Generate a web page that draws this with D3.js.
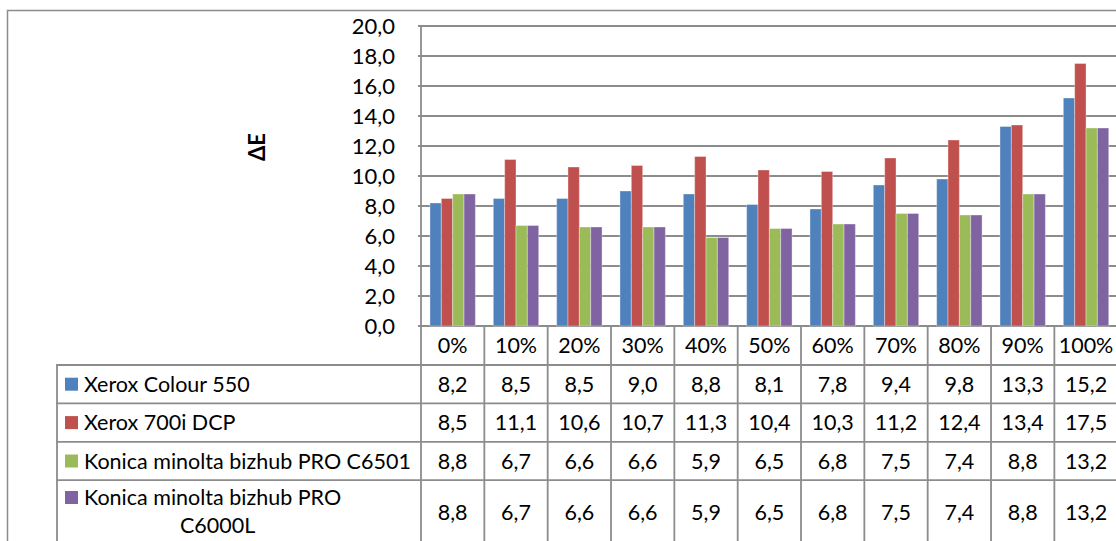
<!DOCTYPE html>
<html>
<head>
<meta charset="utf-8">
<script src="https://cdn.jsdelivr.net/npm/d3@7"></script>
<style>
  html, body { margin: 0; padding: 0; background: #fff; }
  svg { display: block; font-family: Lato, "Open Sans", sans-serif; }
</style>
</head>
<body>
<svg id="chart" width="1116" height="541"></svg>
<script>
// Tone levels along the x axis
const categories = ["0%", "10%", "20%", "30%", "40%", "50%", "60%", "70%", "80%", "90%", "100%"];

// ΔE per printer
const xeroxColour550 = [8.2, 8.5, 8.5, 9.0, 8.8, 8.1, 7.8, 9.4, 9.8, 13.3, 15.2];
const xerox700iDCP   = [8.5, 11.1, 10.6, 10.7, 11.3, 10.4, 10.3, 11.2, 12.4, 13.4, 17.5];
const konicaC6501    = [8.8, 6.7, 6.6, 6.6, 5.9, 6.5, 6.8, 7.5, 7.4, 8.8, 13.2];
const konicaC6000L   = [8.8, 6.7, 6.6, 6.6, 5.9, 6.5, 6.8, 7.5, 7.4, 8.8, 13.2];

const seriesNames = [
  "Xerox Colour 550",
  "Xerox 700i DCP",
  "Konica minolta bizhub PRO C6501",
  "Konica minolta bizhub PRO C6000L"
];
const seriesColors = ["#4F81BD", "#C0504D", "#9BBB59", "#8064A2"];
const yTicks = [0, 2, 4, 6, 8, 10, 12, 14, 16, 18, 20];

const series = [xeroxColour550, xerox700iDCP, konicaC6501, konicaC6000L].map((values, i) => ({
  name: seriesNames[i], color: seriesColors[i], values
}));

const svg = d3.select("#chart");
const gridColor = "#8c8c8c";
const fmt = d3.formatLocale({ decimal: ",", thousands: " ", grouping: [3], currency: ["", ""] }).format(".1f");

// Layout
const plotLeft = 421, plotRight = 1117.7, plotTop = 26, plotBottom = 326;
const tableLeft = 57;
const headerBottom = 365, rowH = 38.4;
const rowTops = [headerBottom, headerBottom + rowH, headerBottom + 2 * rowH, headerBottom + 3 * rowH];
const bottomEdge = 541;

const x = d3.scaleBand().domain(categories).range([plotLeft, plotRight]).paddingInner(0).paddingOuter(0);
const xs = d3.scaleBand().domain(d3.range(series.length)).range([0, x.bandwidth()]).paddingInner(0).paddingOuter(0.79);
const y = d3.scaleLinear().domain([0, 20]).range([plotBottom, plotTop]);

// Outer chart frame
svg.append("rect")
  .attr("x", 7.5).attr("y", 10.5).attr("width", 1200).attr("height", 600)
  .attr("fill", "none").attr("stroke", gridColor).attr("stroke-width", 1.5);

// Horizontal gridlines
svg.append("g").selectAll("line").data(yTicks).join("line")
  .attr("x1", plotLeft - 3).attr("x2", plotRight)
  .attr("y1", d => y(d)).attr("y2", d => y(d))
  .attr("stroke", gridColor).attr("stroke-width", 1.8);

// Y tick labels
svg.append("g").selectAll("text").data(yTicks).join("text")
  .attr("x", 395).attr("y", d => y(d)).attr("dy", "0.36em")
  .attr("text-anchor", "end").attr("font-size", 22).attr("fill", "#000")
  .text(d => fmt(d));

// Y axis title
svg.append("text")
  .attr("transform", "translate(265,147) rotate(-90)")
  .attr("text-anchor", "middle").attr("font-size", 22).attr("font-weight", "bold")
  .text("ΔE");

// Bars
const groups = svg.append("g").selectAll("g").data(series).join("g")
  .attr("fill", d => d.color);
groups.each(function (s, si) {
  d3.select(this).selectAll("rect").data(s.values).join("rect")
    .attr("x", (v, i) => x(categories[i]) + xs(si))
    .attr("y", v => y(v))
    .attr("width", xs.bandwidth())
    .attr("height", v => y(0) - y(v))
    .attr("stroke", "rgba(255,255,255,0.35)").attr("stroke-width", 1);
});

// Data table grid
const tbl = svg.append("g").attr("stroke", gridColor).attr("stroke-width", 1.8);
// vertical lines at category boundaries
const bounds = categories.map(c => x(c)).concat([plotRight]);
tbl.selectAll("line.v").data(bounds).join("line").attr("class", "v")
  .attr("x1", d => d).attr("x2", d => d)
  .attr("y1", (d, i) => i === 0 ? plotTop : plotBottom).attr("y2", bottomEdge + 5);
// legend column left edge
tbl.append("line").attr("x1", tableLeft).attr("x2", tableLeft)
  .attr("y1", headerBottom).attr("y2", bottomEdge + 5);
// horizontal row lines
tbl.selectAll("line.h").data(rowTops).join("line").attr("class", "h")
  .attr("x1", tableLeft - 0.9).attr("x2", plotRight)
  .attr("y1", d => d).attr("y2", d => d);

// Header row: category labels
svg.append("g").selectAll("text").data(categories).join("text")
  .attr("x", d => x(d) + x.bandwidth() / 2)
  .attr("y", (plotBottom + headerBottom) / 2).attr("dy", "0.36em")
  .attr("text-anchor", "middle").attr("font-size", 21.5)
  .text(d => d);

// Row centres (last row is taller and cut by the frame)
const rowCenters = [rowTops[0] + rowH / 2, rowTops[1] + rowH / 2, rowTops[2] + rowH / 2, 512];

// Legend keys and names
const leg = svg.append("g");
series.forEach((s, i) => {
  const cy = i < 3 ? rowCenters[i] : 497.5;
  leg.append("rect").attr("x", 65).attr("y", cy - 6.5).attr("width", 13).attr("height", 13).attr("fill", s.color);
  if (i < 3) {
    leg.append("text").attr("x", 84).attr("y", cy).attr("dy", "0.36em")
      .attr("font-size", 21.5).text(s.name);
  } else {
    leg.append("text").attr("x", 84).attr("y", 505).attr("font-size", 21.5).text("Konica minolta bizhub PRO");
    leg.append("text").attr("x", 180).attr("y", 533).attr("font-size", 21.5).text("C6000L");
  }
});

// Table values
series.forEach((s, si) => {
  svg.append("g").selectAll("text").data(s.values).join("text")
    .attr("x", (v, i) => x(categories[i]) + x.bandwidth() / 2)
    .attr("y", rowCenters[si]).attr("dy", "0.36em")
    .attr("text-anchor", "middle").attr("font-size", 21.5)
    .text(v => fmt(v));
});
</script>
</body>
</html>
